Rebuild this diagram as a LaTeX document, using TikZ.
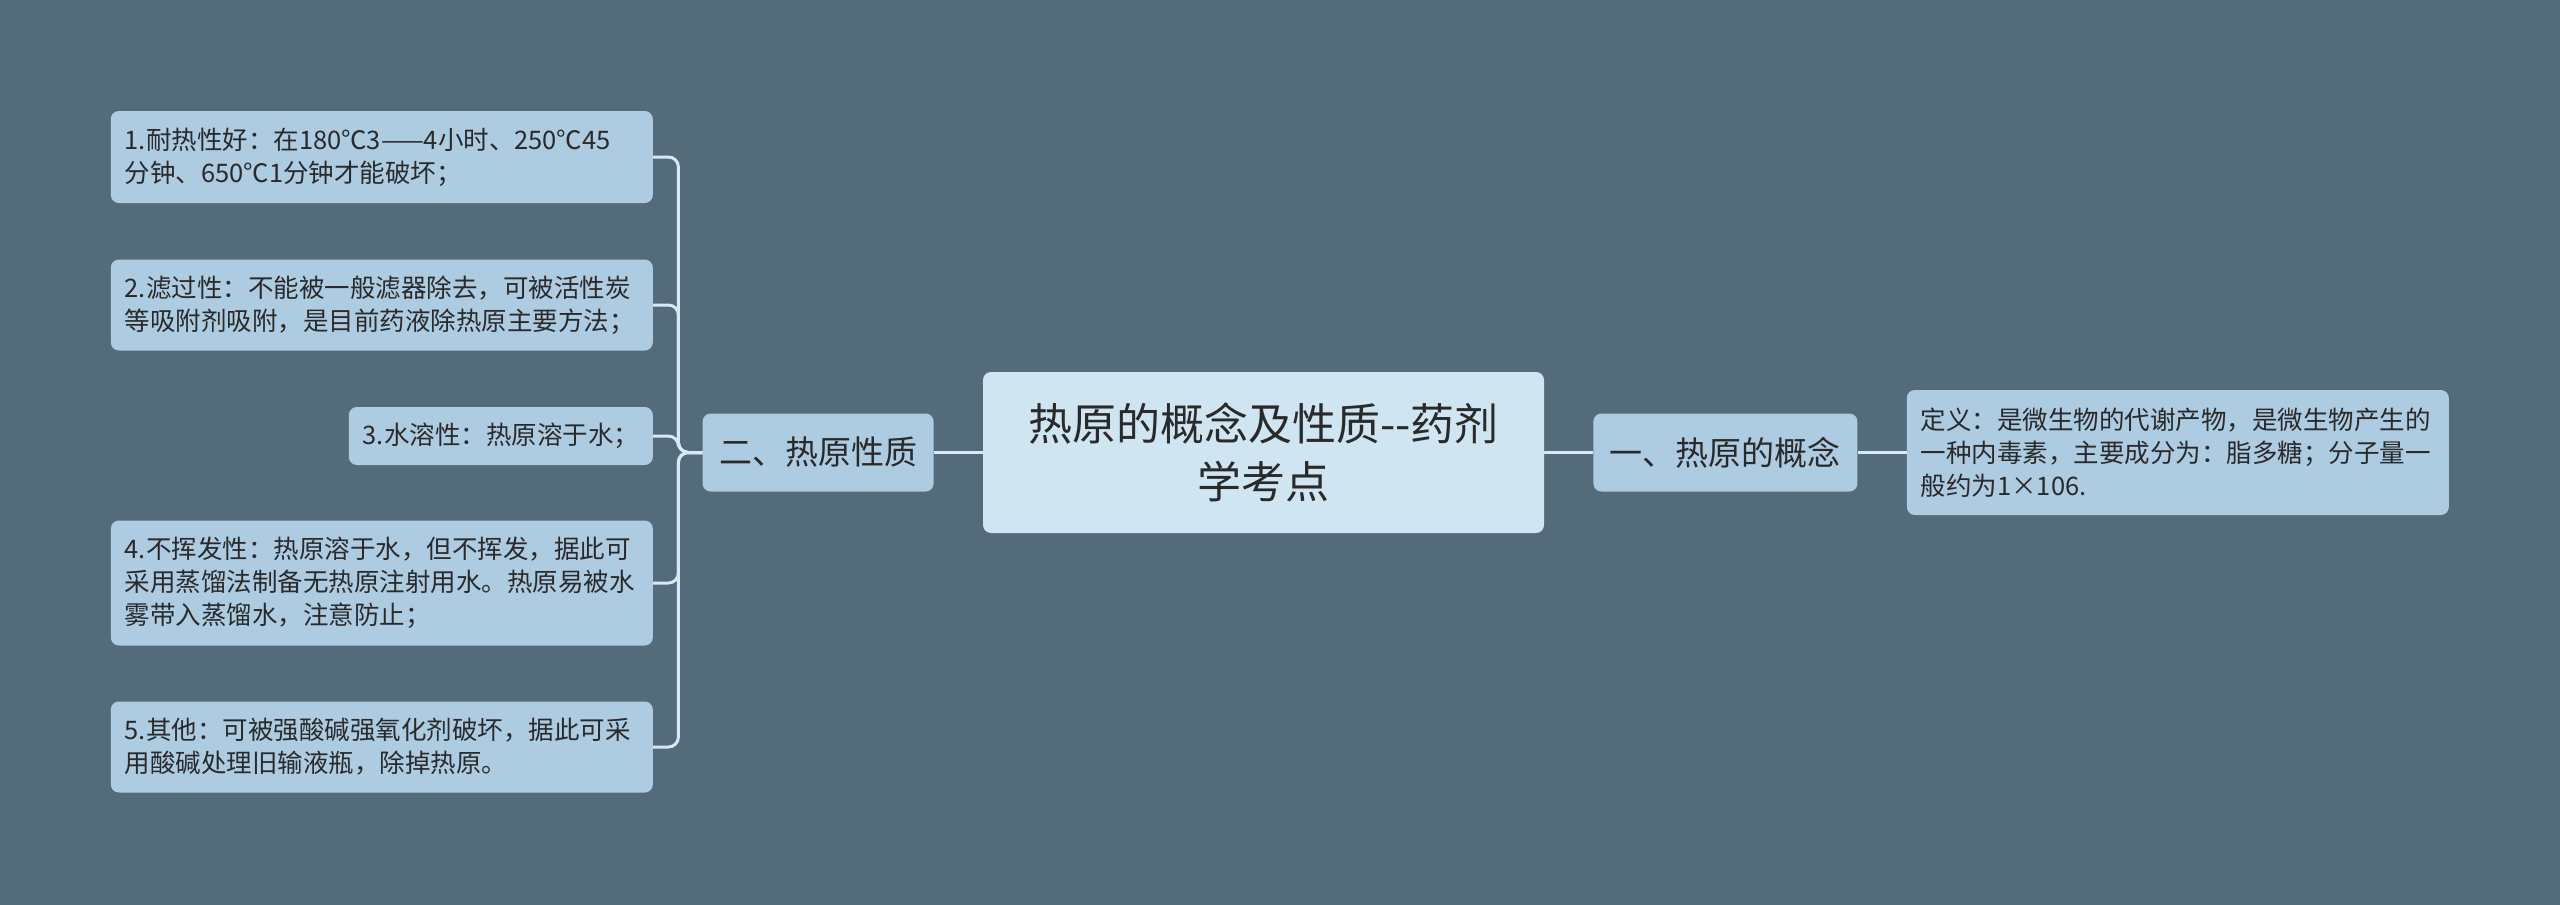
\documentclass[tikz,border=0pt]{standalone}
\usepackage{fontspec}
\setmainfont{Noto Sans CJK SC}
\usetikzlibrary{positioning}
\definecolor{bgslate}{HTML}{546B7B}
\definecolor{leaffill}{HTML}{ADCBE1}
\definecolor{rootfill}{HTML}{CFE5F2}
\definecolor{linkcol}{HTML}{D6EAF5}
\definecolor{inkcol}{HTML}{2A2A2A}

\begin{document}
\begin{tikzpicture}[
  x=1pt, y=-1pt,
  root/.style={rectangle, rounded corners=8pt, fill=rootfill, text=inkcol, minimum width=561pt, minimum height=161pt, align=center, font=\fontsize{44pt}{58pt}\selectfont},
  topic/.style={rectangle, rounded corners=8pt, fill=leaffill, text=inkcol, minimum height=78pt, inner xsep=16.5pt, font=\fontsize{33pt}{40pt}\selectfont},
  leaf/.style={rectangle, rounded corners=8pt, fill=leaffill, text=inkcol, inner xsep=14pt, inner ysep=0pt, text width=514pt, align=left, font=\fontsize{25.5pt}{33pt}\selectfont},
  link/.style={draw=linkcol, line width=3pt, rounded corners=10pt}
]
\fill[bgslate] (0,0) rectangle (2560,905);
\useasboundingbox (0,0) rectangle (2560,905);

\node[root] (root) at (1263.5,452.5) {热原的概念及性质-{}-药剂\\学考点};
\node[topic, left=49pt of root] (c2) {二、热原性质};
\node[topic, right=49pt of root] (c1) {一、热原的概念};
\node[leaf, right=49pt of c1, minimum height=125pt] (def) {定义：是微生物的代谢产物，是微生物产生的\\一种内毒素，主要成分为：脂多糖；分子量一\\般约为1×106.};

\node[leaf, anchor=east, minimum height=92pt] (p1) at (653,157) {1.耐热性好：在180℃3——4小时、250℃45\\分钟、650℃1分钟才能破坏；};
\node[leaf, anchor=east, minimum height=91pt] (p2) at (653,305) {2.滤过性：不能被一般滤器除去，可被活性炭\\等吸附剂吸附，是目前药液除热原主要方法；};
\node[leaf, anchor=east, minimum height=58pt, text width=276pt] (p3) at (653,436) {3.水溶性：热原溶于水；};
\node[leaf, anchor=east, minimum height=125pt] (p4) at (653,583) {4.不挥发性：热原溶于水，但不挥发，据此可\\采用蒸馏法制备无热原注射用水。热原易被水\\雾带入蒸馏水，注意防止；};
\node[leaf, anchor=east, minimum height=91pt] (p5) at (653,747) {5.其他：可被强酸碱强氧化剂破坏，据此可采\\用酸碱处理旧输液瓶，除掉热原。};

% links
\draw[link] (root) -- (c2);
\draw[link] (root) -- (c1);
\draw[link] (c1) -- (def);
\foreach \p in {p1,p2,p3,p4,p5}
  \draw[link] (c2.west) -- ++(-24,0) |- (\p.east);

\end{tikzpicture}
\end{document}
